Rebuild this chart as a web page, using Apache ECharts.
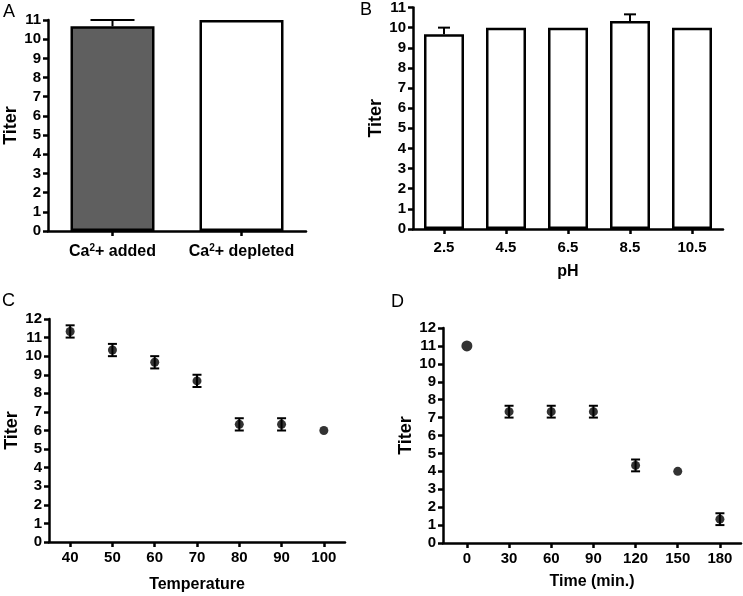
<!DOCTYPE html>
<html>
<head>
<meta charset="utf-8">
<script src="https://cdn.jsdelivr.net/npm/echarts@6/dist/echarts.min.js"></script>
<style>
  html, body { margin: 0; padding: 0; background: #fff; }
  #chart { width: 743px; height: 596px; }
</style>
</head>
<body>
<div id="chart"></div>
<script>
// panel A: calcium
const caCats = ['Ca2+ added', 'Ca2+ depleted']
const caVals = [10.67, 11]
const caErr = [0.33, 0]

// panel B: pH
const phCats = ['2.5', '4.5', '6.5', '8.5', '10.5']
const phVals = [9.67, 10, 10, 10.33, 10]
const phErr = [0.33, 0, 0, 0.33, 0]

// panel C: temperature
const temps = [40, 50, 60, 70, 80, 90, 100]
const tempVals = [11.33, 10.33, 9.67, 8.67, 6.33, 6.33, 6]
const tempErr = [0.33, 0.33, 0.33, 0.33, 0.33, 0.33, 0]

// panel D: time
const times = [0, 30, 60, 90, 120, 150, 180]
const timeVals = [11, 7.33, 7.33, 7.33, 4.33, 4, 1.33]
const timeErr = [0, 0.33, 0.33, 0.33, 0.33, 0, 0.33]

const FONT = '"Liberation Sans", Arial, sans-serif'
const axisLine = { show: true, onZero: false, lineStyle: { color: '#000', width: 2.5 } }
const axisTick = { show: true, inside: false, length: 5, lineStyle: { color: '#000', width: 2.5 } }
const tickFont = { color: '#000', fontFamily: FONT, fontWeight: 'bold', fontSize: 15 }
const nameFont = { color: '#000', fontFamily: FONT, fontWeight: 'bold', fontSize: 16 }

const yAxis = (grid, max, gap) => ({
  type: 'value', gridIndex: grid, min: 0, max: max, interval: 1,
  name: 'Titer', nameLocation: 'middle', nameGap: gap,
  nameTextStyle: { ...nameFont, fontSize: 18 },
  axisLine, axisTick, splitLine: { show: false },
  axisLabel: { ...tickFont, margin: 7 }
})

// error bar drawn with a custom series; both=false draws only the upper whisker
const errRender = (capHalf, both) => (params, api) => {
  const x = api.value(0), y = api.value(1), e = api.value(2)
  if (!e) return null
  const top = api.coord([x, y + e])
  const bot = api.coord([x, both ? y - e : y])
  const style = { stroke: '#000', lineWidth: 2 }
  const kids = [
    { type: 'line', shape: { x1: top[0], y1: top[1], x2: bot[0], y2: bot[1] }, style },
    { type: 'line', shape: { x1: top[0] - capHalf, y1: top[1], x2: top[0] + capHalf, y2: top[1] }, style }
  ]
  if (both) kids.push({ type: 'line', shape: { x1: bot[0] - capHalf, y1: bot[1], x2: bot[0] + capHalf, y2: bot[1] }, style })
  return { type: 'group', children: kids }
}

const chart = echarts.init(document.getElementById('chart'))

chart.setOption({
  backgroundColor: '#fff',
  animation: false,
  grid: [
    { left: 48, top: 20, width: 258, height: 211 },
    { left: 413, top: 6, width: 310, height: 223 },
    { left: 49, top: 319, width: 296, height: 223 },
    { left: 443, top: 328, width: 298, height: 215 }
  ],
  xAxis: [
    {
      type: 'category', gridIndex: 0, data: caCats,
      axisLine, axisTick: { ...axisTick, alignWithLabel: true },
      axisLabel: {
        ...tickFont, fontSize: 16, margin: 12, interval: 0,
        formatter: v => v.replace('Ca2', 'Ca{sup|2}'),
        rich: { sup: { fontFamily: FONT, fontWeight: 'bold', fontSize: 10, color: '#000', verticalAlign: 'top', padding: [0, 0, 8, 0] } }
      }
    },
    {
      type: 'category', gridIndex: 1, data: phCats,
      name: 'pH', nameLocation: 'middle', nameGap: 35, nameTextStyle: nameFont,
      axisLine, axisTick: { ...axisTick, alignWithLabel: true },
      axisLabel: { ...tickFont, margin: 11, interval: 0 }
    },
    {
      type: 'value', gridIndex: 2, min: 35, max: 105,
      name: 'Temperature', nameLocation: 'middle', nameGap: 35, nameTextStyle: nameFont,
      axisLine, axisTick: { ...axisTick, customValues: temps },
      splitLine: { show: false },
      axisLabel: { ...tickFont, margin: 8, customValues: temps }
    },
    {
      type: 'value', gridIndex: 3, min: -17, max: 195,
      name: 'Time (min.)', nameLocation: 'middle', nameGap: 31, nameTextStyle: nameFont,
      axisLine, axisTick: { ...axisTick, customValues: times },
      splitLine: { show: false },
      axisLabel: { ...tickFont, margin: 8, customValues: times }
    }
  ],
  yAxis: [yAxis(0, 11, 28), yAxis(1, 11, 26), yAxis(2, 12, 26), yAxis(3, 12, 27)],
  graphic: [
    { type: 'text', left: 3, top: 3, style: { text: 'A', font: '18px ' + FONT, fill: '#000' } },
    { type: 'text', left: 360, top: 1, style: { text: 'B', font: '18px ' + FONT, fill: '#000' } },
    { type: 'text', left: 2, top: 292, style: { text: 'C', font: '18px ' + FONT, fill: '#000' } },
    { type: 'text', left: 391, top: 293, style: { text: 'D', font: '18px ' + FONT, fill: '#000' } }
  ],
  series: [
    {
      type: 'custom', xAxisIndex: 0, yAxisIndex: 0, z: 1,
      renderItem: errRender(22, false),
      data: caVals.map((v, i) => [i, v, caErr[i]])
    },
    {
      type: 'bar', xAxisIndex: 0, yAxisIndex: 0, barWidth: 84, z: 2,
      itemStyle: { color: p => (p.dataIndex === 0 ? '#5f5f5f' : '#fff'), borderColor: '#000', borderWidth: 2.5 },
      data: caVals
    },
    {
      type: 'custom', xAxisIndex: 1, yAxisIndex: 1, z: 1,
      renderItem: errRender(6, false),
      data: phVals.map((v, i) => [i, v, phErr[i]])
    },
    {
      type: 'bar', xAxisIndex: 1, yAxisIndex: 1, barWidth: 40, z: 2,
      itemStyle: { color: '#fff', borderColor: '#000', borderWidth: 2.5 },
      data: phVals
    },
    {
      type: 'custom', xAxisIndex: 2, yAxisIndex: 2,
      renderItem: errRender(4.5, true),
      data: temps.map((t, i) => [t, tempVals[i], tempErr[i]])
    },
    {
      type: 'scatter', xAxisIndex: 2, yAxisIndex: 2, symbol: 'circle', symbolSize: 9,
      itemStyle: { color: '#000' },
      data: temps.map((t, i) => [t, tempVals[i]])
    },
    {
      type: 'custom', xAxisIndex: 3, yAxisIndex: 3,
      renderItem: errRender(4.5, true),
      data: times.map((t, i) => [t, timeVals[i], timeErr[i]])
    },
    {
      type: 'scatter', xAxisIndex: 3, yAxisIndex: 3, symbol: 'circle',
      symbolSize: (v, p) => (p.dataIndex === 0 ? 11 : 9),
      itemStyle: { color: '#000' },
      data: times.map((t, i) => [t, timeVals[i]])
    }
  ]
})
</script>
</body>
</html>
